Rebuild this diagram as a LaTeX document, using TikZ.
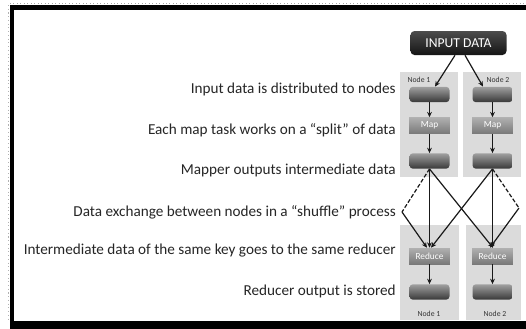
\documentclass[tikz,border=0pt]{standalone}
\usepackage{fontspec}
\setmainfont{Carlito}
\usetikzlibrary{arrows.meta,calc}
\begin{document}
\begin{tikzpicture}[x=0.75pt,y=-0.75pt,
  panel/.style={fill=gray!28,draw=none},
  darkbox/.style={draw=none,rounded corners=2.5pt,top color=gray!75,bottom color=black!78,minimum width=30pt,minimum height=11.5pt,inner sep=0pt},
  lightbox/.style={draw=none,top color=gray!62,bottom color=gray!95!black,minimum width=30.5pt,minimum height=12pt,inner sep=0pt,text=white,font=\fontsize{7}{8}\selectfont},
  lbl/.style={anchor=east,inner sep=0pt,text=black!85,font=\fontsize{11.4}{13}\selectfont},
  nlab/.style={inner sep=0pt,text=black!80,font=\fontsize{5.8}{6.5}\selectfont},
  arr/.style={draw=black!90,line width=0.9pt,-{Stealth[length=4pt,width=3.6pt]}},
  dashline/.style={draw=black!90,line width=0.9pt,dash pattern=on 3pt off 1.5pt}
]
\useasboundingbox (0,0) rectangle (526,329);
\fill[white] (0,0) rectangle (526,329);
% frame
\draw[gray!70,dotted,line width=0.6pt] (10,3.5) -- (526,3.5);
\draw[gray!60,dotted,line width=0.8pt] (8.7,5) -- (8.7,321);
\fill[black] (9.5,5) rectangle (526,10);
\fill[black] (9.5,5) rectangle (14,329);
\fill[black] (9.5,321) rectangle (526,329);
% panels
\fill[panel] (400,72) rectangle (458,177);
\fill[panel] (463,72) rectangle (521,177);
\fill[panel] (400,225) rectangle (459,320);
\fill[panel] (466,225) rectangle (521,320);
% labels
\node[lbl] (t1) at (396,89) {Input data is distributed to nodes};
\node[lbl] (t2) at (396,130) {Each map task works on a “split” of data};
\node[lbl] (t3) at (396,170) {Mapper outputs intermediate data};
\node[lbl] (t4) at (396,212) {Data exchange between nodes in a “shuffle” process};
\node[lbl] (t5) at (396,251) {Intermediate data of the same key goes to the same reducer};
\node[lbl] (t6) at (396,291) {Reducer output is stored};
% input
\node[draw=none,rounded corners=3pt,top color=black!70,bottom color=black!92,minimum width=72pt,minimum height=18pt,inner sep=0pt,text=white,font=\fontsize{10.2}{11}\selectfont] (input) at (458.5,43) {INPUT DATA};
% node labels
\node[nlab] (n1t) at (419,80) {Node 1};
\node[nlab] (n2t) at (498,80) {Node 2};
\node[nlab] (n1b) at (429,314) {Node 1};
\node[nlab] (n2b) at (495,314) {Node 2};
% boxes
\node[darkbox] (a1) at (429.5,94.5) {};
\node[darkbox] (a2) at (492.5,94.5) {};
\node[lightbox] (m1) at (429.5,125.5) {Map};
\node[lightbox] (m2) at (492.5,125.5) {Map};
\node[darkbox] (o1) at (429.5,161) {};
\node[darkbox] (o2) at (492.5,161) {};
\node[lightbox] (r1) at (429.5,256) {Reduce};
\node[lightbox] (r2) at (492.5,256) {Reduce};
\node[darkbox] (s1) at (429.5,292) {};
\node[darkbox] (s2) at (492.5,292) {};
\coordinate (cl) at (402,212);
\coordinate (cr) at (519,208);
% arrows
\draw[arr] ($(input.south)+(-3.5,0)$) -- ($(a1.north)+(5.5,0)$);
\draw[arr] ($(input.south)+(6.5,0)$) -- ($(a2.north)+(-9.5,0)$);
\draw[arr] (a1) -- (m1);
\draw[arr] (a2) -- (m2);
\draw[arr] (m1) -- (o1);
\draw[arr] (m2) -- (o2);
\draw[arr] (r1) -- (s1);
\draw[arr] (r2) -- (s2);
% shuffle
\draw[arr] (o1.south) -- (r1.north);
\draw[arr] (o1.south) -- ($(r2.north)+(0.5,0)$);
\draw[arr] (o2.south) -- ($(r1.north)+(1.5,0)$);
\draw[arr] (o2.south) -- (r2.north);
\draw[dashline] (o1.south) -- (cl);
\draw[arr] (cl) -- ($(r1.north)+(-2.5,0)$);
\draw[dashline] (o2.south) -- (cr);
\draw[arr] (cr) -- ($(r2.north)+(-2.5,0)$);
\end{tikzpicture}
\end{document}
